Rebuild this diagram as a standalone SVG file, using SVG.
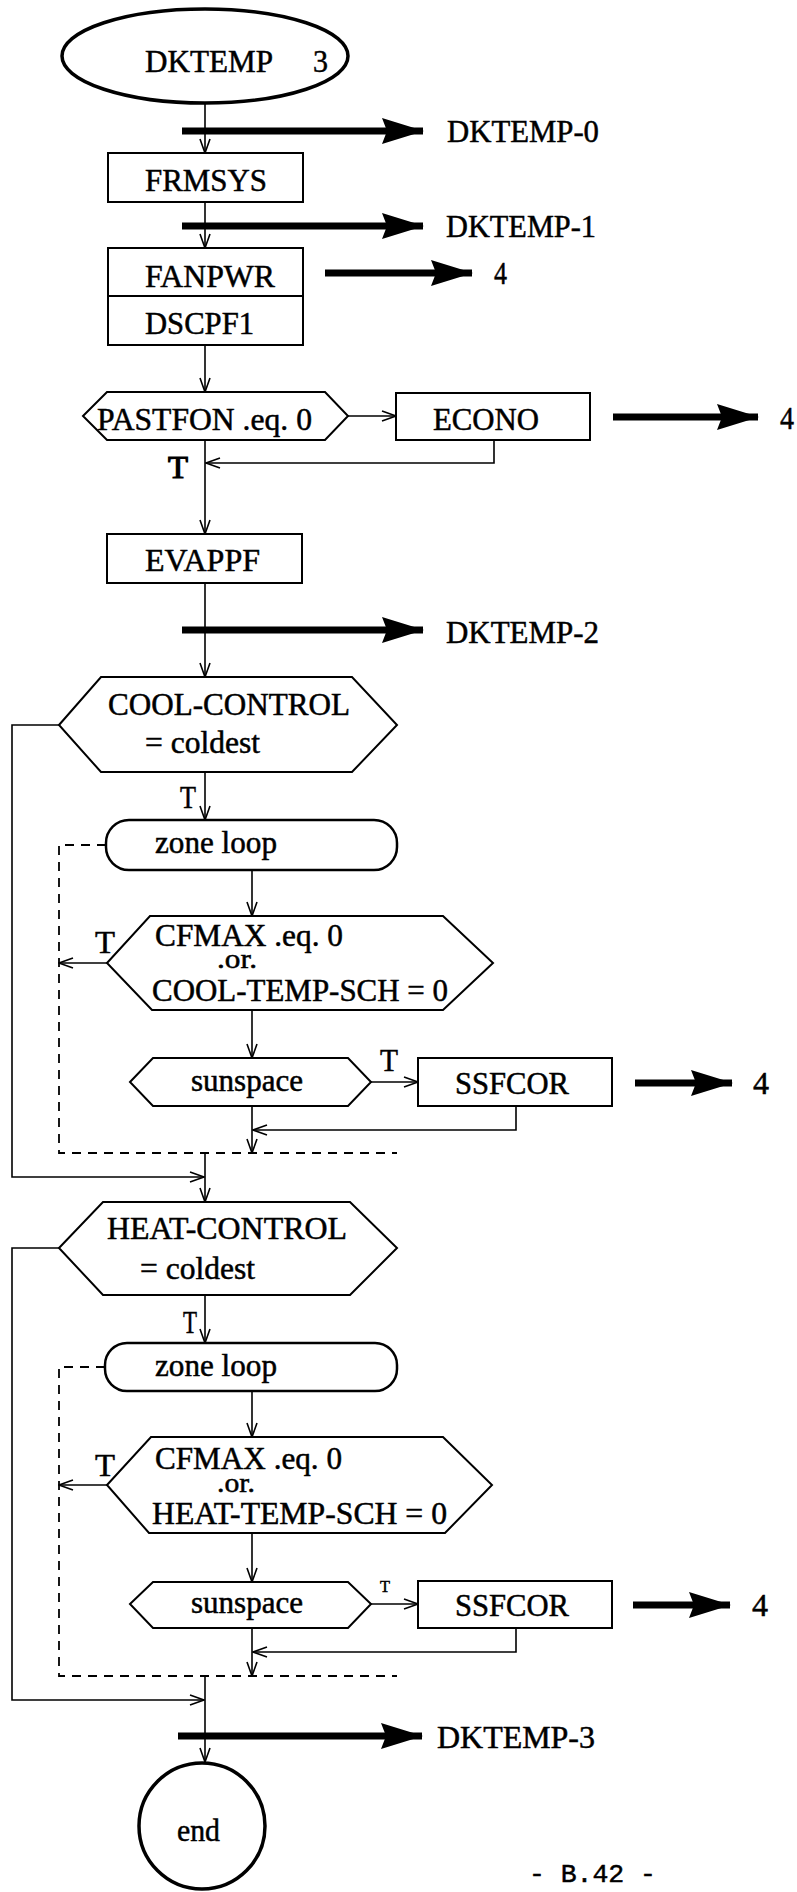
<svg xmlns="http://www.w3.org/2000/svg" width="797" height="1892" viewBox="0 0 797 1892">
<style>
text{font-family:"Liberation Serif","Times New Roman",serif;font-size:31px;fill:#000;stroke:#000;stroke-width:0.5}
.sm{font-size:17px}
.or{font-size:27px}
.box{fill:#fff;stroke:#000;stroke-width:2}
.term{fill:#fff;stroke:#000;stroke-width:3.5}
.loop{fill:#fff;stroke:#000;stroke-width:2.5}
.ln{fill:none;stroke:#000;stroke-width:1.6}
.dash{fill:none;stroke:#000;stroke-width:1.8;stroke-dasharray:9 7}
.thick{fill:none;stroke:#000;stroke-width:7}
.mono{font-family:"Liberation Mono","Courier New",monospace;font-size:26px}
</style>
<defs>
<marker id="a" markerUnits="userSpaceOnUse" markerWidth="16" markerHeight="12" viewBox="0 0 16 12" refX="15" refY="6" orient="auto">
<path d="M1,1 L15,6 L1,11" fill="none" stroke="#000" stroke-width="1.6"/>
</marker>
<marker id="big" markerUnits="userSpaceOnUse" markerWidth="42" markerHeight="28" viewBox="0 0 42 28" refX="41" refY="14" orient="auto">
<path d="M0,1 L42,14 L0,27 L5,14 z" fill="#000"/>
</marker>
</defs>
<rect width="797" height="1892" fill="#fff"/>

<g id="connectors">
<line class="ln" x1="205" y1="103" x2="205" y2="153" marker-end="url(#a)"/>
<line class="ln" x1="205" y1="202" x2="205" y2="248" marker-end="url(#a)"/>
<line class="ln" x1="205" y1="345" x2="205" y2="392" marker-end="url(#a)"/>
<line class="ln" x1="348" y1="416" x2="396" y2="416" marker-end="url(#a)"/>
<polyline class="ln" points="494,440 494,463 206,463" marker-end="url(#a)"/>
<line class="ln" x1="205" y1="440" x2="205" y2="534" marker-end="url(#a)"/>
<line class="ln" x1="205" y1="583" x2="205" y2="677" marker-end="url(#a)"/>
<polyline class="ln" points="59,725 12,725 12,1177 204,1177" marker-end="url(#a)"/>
<line class="ln" x1="205" y1="772" x2="205" y2="820" marker-end="url(#a)"/>
<line class="ln" x1="252" y1="870" x2="252" y2="916" marker-end="url(#a)"/>
<line class="ln" x1="107" y1="963" x2="59" y2="963" marker-end="url(#a)"/>
<line class="ln" x1="252" y1="1010" x2="252" y2="1058" marker-end="url(#a)"/>
<line class="ln" x1="371" y1="1082" x2="418" y2="1082" marker-end="url(#a)"/>
<polyline class="ln" points="516,1106 516,1130 253,1130" marker-end="url(#a)"/>
<line class="ln" x1="252" y1="1106" x2="252" y2="1153" marker-end="url(#a)"/>
<polyline class="dash" points="106,845 59,845 59,1153 397,1153"/>
<line class="ln" x1="205" y1="1153" x2="205" y2="1202" marker-end="url(#a)"/>
<polyline class="ln" points="59,1248 12,1248 12,1700 204,1700" marker-end="url(#a)"/>
<line class="ln" x1="205" y1="1295" x2="205" y2="1343" marker-end="url(#a)"/>
<line class="ln" x1="252" y1="1391" x2="252" y2="1437" marker-end="url(#a)"/>
<line class="ln" x1="107" y1="1485" x2="59" y2="1485" marker-end="url(#a)"/>
<line class="ln" x1="252" y1="1533" x2="252" y2="1582" marker-end="url(#a)"/>
<line class="ln" x1="371" y1="1604" x2="418" y2="1604" marker-end="url(#a)"/>
<polyline class="ln" points="516,1628 516,1652 253,1652" marker-end="url(#a)"/>
<line class="ln" x1="252" y1="1628" x2="252" y2="1676" marker-end="url(#a)"/>
<polyline class="dash" points="105,1367 59,1367 59,1676 397,1676"/>
<line class="ln" x1="205" y1="1676" x2="205" y2="1762" marker-end="url(#a)"/>
<line class="thick" x1="182" y1="131" x2="423" y2="131" marker-end="url(#big)"/>
<line class="thick" x1="182" y1="226" x2="423" y2="226" marker-end="url(#big)"/>
<line class="thick" x1="325" y1="273" x2="472" y2="273" marker-end="url(#big)"/>
<line class="thick" x1="613" y1="417" x2="758" y2="417" marker-end="url(#big)"/>
<line class="thick" x1="182" y1="630" x2="423" y2="630" marker-end="url(#big)"/>
<line class="thick" x1="635" y1="1083" x2="732" y2="1083" marker-end="url(#big)"/>
<line class="thick" x1="633" y1="1605" x2="730" y2="1605" marker-end="url(#big)"/>
<line class="thick" x1="178" y1="1736" x2="422" y2="1736" marker-end="url(#big)"/>
</g>

<g id="n-start">
<ellipse class="term" cx="205" cy="56" rx="143" ry="47"/>
<text x="145" y="72" textLength="128" lengthAdjust="spacingAndGlyphs">DKTEMP</text>
<text x="313" y="72" textLength="15" lengthAdjust="spacingAndGlyphs">3</text>
</g>
<g id="n-frmsys">
<rect class="box" x="108" y="153" width="195" height="49"/>
<text x="145" y="191" textLength="122" lengthAdjust="spacingAndGlyphs">FRMSYS</text>
</g>
<g id="n-fanpwr">
<rect class="box" x="108" y="248" width="195" height="48"/>
<text x="145" y="287" textLength="130" lengthAdjust="spacingAndGlyphs">FANPWR</text>
</g>
<g id="n-dscpf1">
<rect class="box" x="108" y="296" width="195" height="49"/>
<text x="145" y="334" textLength="109" lengthAdjust="spacingAndGlyphs">DSCPF1</text>
</g>
<g id="n-pastfon">
<polygon class="box" points="83,416 107,392 325,392 348,416 325,440 107,440"/>
<text x="97" y="430" textLength="215" lengthAdjust="spacingAndGlyphs">PASTFON .eq. 0</text>
<text x="168" y="478" textLength="20" lengthAdjust="spacingAndGlyphs" style="stroke-width:1.2">T</text>
</g>
<g id="n-econo">
<rect class="box" x="396" y="393" width="194" height="47"/>
<text x="433" y="430" textLength="106" lengthAdjust="spacingAndGlyphs">ECONO</text>
</g>
<g id="n-evappf">
<rect class="box" x="107" y="534" width="195" height="49"/>
<text x="145" y="571" textLength="115" lengthAdjust="spacingAndGlyphs">EVAPPF</text>
</g>
<g id="n-cool">
<polygon class="box" points="59,725 101,677 352,677 397,725 352,772 101,772"/>
<text x="108" y="715" textLength="242" lengthAdjust="spacingAndGlyphs">COOL-CONTROL</text>
<text x="145" y="753" textLength="115" lengthAdjust="spacingAndGlyphs">= coldest</text>
<text x="180" y="808" textLength="16" lengthAdjust="spacingAndGlyphs">T</text>
</g>
<g id="n-zone1">
<rect class="loop" x="106" y="820" width="291" height="50" rx="23"/>
<text x="155" y="853" textLength="122" lengthAdjust="spacingAndGlyphs">zone loop</text>
</g>
<g id="n-cfmax1">
<polygon class="box" points="107,963 150,916 443,916 493,963 443,1010 152,1010"/>
<text x="155" y="946" textLength="188" lengthAdjust="spacingAndGlyphs">CFMAX .eq. 0</text>
<text class="or" x="217" y="968" textLength="40" lengthAdjust="spacingAndGlyphs">.or.</text>
<text x="152" y="1001" textLength="296" lengthAdjust="spacingAndGlyphs">COOL-TEMP-SCH = 0</text>
<text x="95" y="953" textLength="20" lengthAdjust="spacingAndGlyphs">T</text>
</g>
<g id="n-sun1">
<polygon class="box" points="130,1082 153,1058 348,1058 371,1082 348,1106 153,1106"/>
<text x="191" y="1091" textLength="112" lengthAdjust="spacingAndGlyphs">sunspace</text>
<text x="380" y="1071" textLength="18" lengthAdjust="spacingAndGlyphs">T</text>
</g>
<g id="n-ssfcor1">
<rect class="box" x="418" y="1058" width="194" height="48"/>
<text x="455" y="1094" textLength="114" lengthAdjust="spacingAndGlyphs">SSFCOR</text>
</g>
<g id="n-heat">
<polygon class="box" points="59,1248 103,1202 350,1202 397,1248 350,1295 103,1295"/>
<text x="107" y="1239" textLength="240" lengthAdjust="spacingAndGlyphs">HEAT-CONTROL</text>
<text x="140" y="1279" textLength="115" lengthAdjust="spacingAndGlyphs">= coldest</text>
<text x="183" y="1333" textLength="14" lengthAdjust="spacingAndGlyphs">T</text>
</g>
<g id="n-zone2">
<rect class="loop" x="105" y="1343" width="292" height="48" rx="22"/>
<text x="155" y="1376" textLength="122" lengthAdjust="spacingAndGlyphs">zone loop</text>
</g>
<g id="n-cfmax2">
<polygon class="box" points="107,1485 151,1437 443,1437 492,1485 445,1533 149,1533"/>
<text x="155" y="1469" textLength="187" lengthAdjust="spacingAndGlyphs">CFMAX .eq. 0</text>
<text class="or" x="217" y="1492" textLength="38" lengthAdjust="spacingAndGlyphs">.or.</text>
<text x="152" y="1524" textLength="295" lengthAdjust="spacingAndGlyphs">HEAT-TEMP-SCH = 0</text>
<text x="95" y="1476" textLength="20" lengthAdjust="spacingAndGlyphs">T</text>
</g>
<g id="n-sun2">
<polygon class="box" points="130,1604 153,1582 348,1582 371,1604 348,1628 153,1628"/>
<text x="191" y="1613" textLength="112" lengthAdjust="spacingAndGlyphs">sunspace</text>
<text class="sm" x="380" y="1592" textLength="10" lengthAdjust="spacingAndGlyphs">T</text>
</g>
<g id="n-ssfcor2">
<rect class="box" x="418" y="1581" width="194" height="47"/>
<text x="455" y="1616" textLength="114" lengthAdjust="spacingAndGlyphs">SSFCOR</text>
</g>
<g id="n-end">
<ellipse class="term" cx="202" cy="1826" rx="63" ry="63"/>
<text x="177" y="1841" textLength="43" lengthAdjust="spacingAndGlyphs">end</text>
</g>
<g id="labels">
<text x="447" y="142" textLength="152" lengthAdjust="spacingAndGlyphs">DKTEMP-0</text>
<text x="446" y="237" textLength="150" lengthAdjust="spacingAndGlyphs">DKTEMP-1</text>
<text x="494" y="284" textLength="13" lengthAdjust="spacingAndGlyphs">4</text>
<text x="780" y="429" textLength="14" lengthAdjust="spacingAndGlyphs">4</text>
<text x="446" y="643" textLength="153" lengthAdjust="spacingAndGlyphs">DKTEMP-2</text>
<text x="753" y="1094" textLength="16" lengthAdjust="spacingAndGlyphs">4</text>
<text x="752" y="1616" textLength="16" lengthAdjust="spacingAndGlyphs">4</text>
<text x="437" y="1748" textLength="158" lengthAdjust="spacingAndGlyphs">DKTEMP-3</text>
<text class="mono" x="529" y="1882" textLength="127" lengthAdjust="spacingAndGlyphs">- B.42 -</text>
</g>
</svg>
